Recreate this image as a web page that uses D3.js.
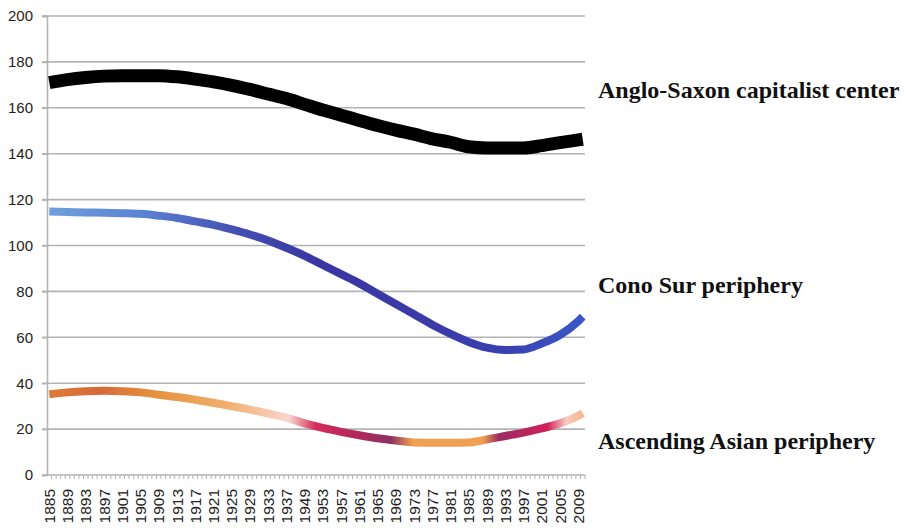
<!DOCTYPE html>
<html>
<head>
<meta charset="utf-8">
<script src="https://cdn.jsdelivr.net/npm/d3@7"></script>
<style>
  html, body { margin: 0; padding: 0; background: #fff; }
  svg { display: block; }
</style>
</head>
<body>
<svg id="chart" width="912" height="528"></svg>
<script>
// ---- DATA ----
// Category axis: annual years (1941-1948 absent from the source series)
const categories = d3.range(1885, 1941).concat(d3.range(1949, 2011));
const sampleYears = [1885, 1889, 1893, 1897, 1901, 1905, 1909, 1913, 1917, 1921, 1925, 1929, 1933, 1937,
  1949, 1953, 1957, 1961, 1965, 1969, 1973, 1977, 1981, 1985, 1989, 1993, 1997, 2001, 2005, 2009, 2010];
const angloSaxon = [171, 172.3, 173.2, 173.8, 174, 174, 174, 173.5, 172.5, 171.3, 169.8, 168, 166, 164,
  161.5, 159, 156.8, 154.5, 152.3, 150.3, 148.5, 146.5, 145, 143, 142.5, 142.5, 142.5, 143.5, 144.8, 146, 146.3];
const conoSur = [114.8, 114.6, 114.4, 114.3, 114.1, 113.8, 113, 112, 110.5, 109, 107, 104.8, 102.2, 99,
  95.5, 91.5, 87.5, 83.5, 79, 74.5, 70, 65.5, 61.5, 58, 55.5, 54.5, 54.7, 57.3, 61, 67, 69];
const asian = [35.2, 36, 36.5, 36.7, 36.5, 36, 35, 34, 32.8, 31.5, 30, 28.5, 26.8, 25,
  22.5, 20.5, 18.8, 17.3, 16, 15, 14.2, 14, 14, 14.2, 15.5, 17, 18.5, 20.3, 22.5, 25.8, 27];
const yTicks = [0, 20, 40, 60, 80, 100, 120, 140, 160, 180, 200];
const seriesNames = ["Anglo-Saxon capitalist center", "Cono Sur periphery", "Ascending Asian periphery"];

// ---- CHART ----
const svg = d3.select("#chart");
const mLeft = 47, mRight = 585, mTop = 16, mBottom = 475;

const x = d3.scaleBand().domain(categories).range([mLeft, mRight]).padding(0);
const y = d3.scaleLinear().domain([0, 200]).range([mBottom, mTop]);
const cx = yr => x(yr) + x.bandwidth() / 2;

// gridlines
svg.append("g").selectAll("line").data(yTicks.filter(d => d > 0)).join("line")
  .attr("x1", mLeft - 5).attr("x2", mRight)
  .attr("y1", d => y(d)).attr("y2", d => y(d))
  .attr("stroke", "#b3b3b3").attr("stroke-width", 1.6);

// y axis
const yAxis = svg.append("g").attr("transform", `translate(${mLeft},0)`)
  .call(d3.axisLeft(y).tickValues(yTicks).tickSize(5).tickPadding(9).tickFormat(d3.format("d")));
yAxis.select(".domain").attr("stroke", "#b3b3b3").attr("stroke-width", 1.6);
yAxis.selectAll(".tick line").attr("stroke", "#b3b3b3").attr("stroke-width", 1.6);
yAxis.selectAll("text").attr("font-family", "Liberation Sans, Arial, sans-serif")
  .attr("font-size", 15).attr("fill", "#222");

// x axis: baseline and minor ticks between categories
svg.append("line").attr("x1", mLeft - 5).attr("x2", mRight).attr("y1", mBottom).attr("y2", mBottom)
  .attr("stroke", "#b3b3b3").attr("stroke-width", 1.6);
svg.append("g").selectAll("line").data(categories).join("line")
  .attr("x1", d => x(d) + x.bandwidth()).attr("x2", d => x(d) + x.bandwidth())
  .attr("y1", mBottom).attr("y2", mBottom + 4)
  .attr("stroke", "#b3b3b3").attr("stroke-width", 1);

const labelYears = categories.filter((d, i) => i % 4 === 0);
const xAxis = svg.append("g").attr("transform", `translate(0,${mBottom})`)
  .call(d3.axisBottom(x).tickValues(labelYears).tickSize(0).tickPadding(0));
xAxis.select(".domain").remove();
xAxis.selectAll("text")
  .attr("font-family", "Liberation Sans, Arial, sans-serif").attr("font-size", 15.5).attr("fill", "#222")
  .attr("transform", "rotate(-90)")
  .attr("text-anchor", "end").attr("dy", "0.36em").attr("x", -14).attr("y", 0);

// gradients
const defs = svg.append("defs");
function grad(id, stops) {
  const g = defs.append("linearGradient").attr("id", id)
    .attr("gradientUnits", "userSpaceOnUse")
    .attr("x1", mLeft).attr("x2", mRight).attr("y1", 0).attr("y2", 0);
  stops.forEach(s => g.append("stop").attr("offset", s[0]).attr("stop-color", s[1]));
}
grad("gBlue", [[0, "#6fa0dc"], [0.18, "#5a82d2"], [0.35, "#4550b4"], [0.5, "#3a36a2"],
  [0.7, "#3a3aa8"], [0.85, "#3a40b0"], [1, "#3a58c8"]]);
grad("gAsia", [[0, "#e07a38"], [0.1, "#d66a38"], [0.2, "#e5923f"], [0.33, "#f0ae6c"],
  [0.45, "#f8d6cc"], [0.5, "#d42a5a"], [0.58, "#b02a5c"], [0.64, "#8e3262"],
  [0.68, "#f0a050"], [0.81, "#f0a050"], [0.84, "#9a2c62"], [0.93, "#d0205a"],
  [0.965, "#f8cac0"], [1, "#f8b488"]]);

const line = d3.line().x(d => cx(d.year)).y(d => y(d.value)).curve(d3.curveMonotoneX);
const mk = vals => sampleYears.map((yr, i) => ({ year: yr, value: vals[i] }));

svg.append("path").datum(mk(asian)).attr("d", line)
  .attr("fill", "none").attr("stroke", "url(#gAsia)").attr("stroke-width", 8);
svg.append("path").datum(mk(conoSur)).attr("d", line)
  .attr("fill", "none").attr("stroke", "url(#gBlue)").attr("stroke-width", 8);
svg.append("path").datum(mk(angloSaxon)).attr("d", line)
  .attr("fill", "none").attr("stroke", "#000").attr("stroke-width", 13);

// series labels
const labelPos = [98, 293, 449];
svg.append("g").selectAll("text").data(seriesNames).join("text")
  .attr("x", 598).attr("y", (d, i) => labelPos[i])
  .attr("font-family", "Liberation Serif, Times New Roman, serif")
  .attr("font-weight", "bold").attr("font-size", 24).attr("fill", "#111")
  .text(d => d);
</script>
</body>
</html>
